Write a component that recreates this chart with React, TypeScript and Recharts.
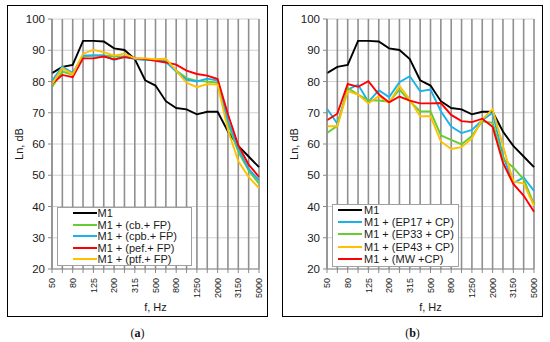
import React from 'react';
import { LineChart, Line, XAxis, YAxis, CartesianGrid, Label } from 'recharts';

const freqs = ['50', '63', '80', '100', '125', '160', '200', '250', '315', '400', '500', '630', '800', '1000', '1250', '1600', '2000', '2500', '3150', '4000', '5000'];
const xTickLabels = ['50', '80', '125', '200', '315', '500', '800', '1250', '2000', '3150', '5000'];
const yTicks = [20, 30, 40, 50, 60, 70, 80, 90, 100];

const m1 = [82.7, 84.7, 85.3, 93.0, 93.0, 92.8, 90.6, 90.1, 87.2, 80.4, 78.7, 73.7, 71.5, 71.1, 69.5, 70.3, 70.3, 64.0, 59.4, 56.0, 52.6];

// panel (a)
const cbFP = [78.2, 83.2, 82.1, 88.0, 88.3, 88.3, 88.0, 88.0, 87.4, 87.1, 86.9, 86.5, 83.5, 81.1, 80.2, 80.0, 79.6, 66.5, 57.5, 51.5, 47.3];
const cpbFP = [80.2, 84.8, 82.7, 88.3, 88.3, 88.3, 86.9, 87.9, 87.2, 86.9, 86.9, 86.3, 83.2, 80.6, 80.0, 80.9, 80.3, 67.5, 58.5, 52.0, 48.4];
const pefFP = [79.3, 82.1, 81.4, 87.4, 87.4, 88.0, 87.1, 87.8, 87.4, 87.2, 86.6, 86.1, 85.4, 83.5, 82.4, 81.9, 80.8, 69.5, 59.6, 53.4, 49.5];
const ptfFP = [79.1, 84.3, 82.3, 88.9, 90.1, 89.4, 88.3, 88.9, 87.4, 87.4, 87.1, 87.3, 83.5, 79.6, 78.2, 79.2, 79.0, 64.5, 54.5, 49.5, 45.9];

// panel (b)
const ep17CP = [71.3, 66.5, 77.4, 79.0, 73.5, 77.2, 75.0, 79.8, 81.7, 76.9, 77.4, 70.5, 65.6, 63.5, 64.5, 67.6, 70.0, 56.2, 47.5, 49.3, 45.0];
const ep33CP = [63.5, 65.8, 77.9, 75.8, 74.0, 73.9, 73.5, 77.4, 73.7, 70.4, 70.4, 62.8, 61.3, 59.9, 62.6, 67.3, 66.8, 55.3, 52.5, 48.7, 40.8];
const ep43CP = [65.7, 65.7, 76.9, 75.8, 73.0, 75.3, 73.2, 78.6, 74.2, 68.9, 68.9, 60.8, 58.4, 59.0, 61.8, 67.9, 71.1, 59.4, 48.0, 47.3, 40.2];
const mwCP = [67.6, 69.7, 79.2, 78.3, 80.1, 75.9, 73.3, 75.2, 73.9, 73.0, 73.0, 73.1, 69.3, 67.3, 67.0, 68.1, 65.5, 54.0, 47.2, 43.5, 38.3];

const FONT = '"Liberation Sans", Arial, sans-serif';
const BLACK = '#000000';
const GREEN = '#66cc33';
const CYAN = '#1ab2ee';
const RED = '#ff0000';
const GOLD = '#ffc000';

type Series = { key: string; name: string; color: string; values: number[] };

const seriesA: Series[] = [
  { key: 'm1', name: 'M1', color: BLACK, values: m1 },
  { key: 'cb', name: 'M1 + (cb.+ FP)', color: GREEN, values: cbFP },
  { key: 'cpb', name: 'M1 + (cpb.+ FP)', color: CYAN, values: cpbFP },
  { key: 'pef', name: 'M1 + (pef.+ FP)', color: RED, values: pefFP },
  { key: 'ptf', name: 'M1 + (ptf.+ FP)', color: GOLD, values: ptfFP },
];

const seriesB: Series[] = [
  { key: 'm1', name: 'M1', color: BLACK, values: m1 },
  { key: 'ep17', name: 'M1 + (EP17 + CP)', color: CYAN, values: ep17CP },
  { key: 'ep33', name: 'M1 + (EP33 + CP)', color: GREEN, values: ep33CP },
  { key: 'ep43', name: 'M1 + (EP43 + CP)', color: GOLD, values: ep43CP },
  { key: 'mw', name: 'M1 + (MW +CP)', color: RED, values: mwCP },
];

const XTick = (props: any) => {
  const { x, y, payload } = props;
  if (!xTickLabels.includes(String(payload.value))) return <g />;
  return (
    <text
      x={x}
      y={y}
      transform={`rotate(-90 ${x} ${y})`}
      textAnchor="end"
      dy="0.35em"
      fontSize={9}
      fill="#1a1a1a"
      fontFamily={FONT}
    >
      {payload.value}
    </text>
  );
};

type LegendCfg = { left: number; top: number; width: number; height: number; rowH: number; lineLeft: number; textLeft: number };

function Panel({ left, series, legend, caption }: { left: number; series: Series[]; legend: LegendCfg; caption: string }) {
  const data = freqs.map((f, i) => {
    const row: any = { f };
    series.forEach((s) => {
      row[s.key] = s.values[i];
    });
    return row;
  });
  return (
    <>
      <div
        style={{
          position: 'absolute',
          left,
          top: 5,
          width: 261,
          height: 312,
          border: '1px solid #000',
          boxSizing: 'border-box',
          background: '#fff',
        }}
      >
        <LineChart width={259} height={310} data={data} margin={{ top: 13, right: 8, bottom: 4, left: 6 }}>
          <CartesianGrid horizontal={true} vertical={false} stroke="#d0d0d0" strokeWidth={1} />
          <CartesianGrid horizontal={false} vertical={true} stroke="#8f8f8f" strokeWidth={1.6} />
          <XAxis
            dataKey="f"
            interval={0}
            height={43}
            tick={<XTick />}
            tickSize={4}
            tickMargin={5}
            stroke="#8a8a8a"
            tickLine={{ stroke: '#8a8a8a' }}
          >
            <Label value="f, Hz" position="insideBottom" offset={1} fontSize={11} fill="#1a1a1a" fontFamily={FONT} />
          </XAxis>
          <YAxis
            domain={[20, 100]}
            ticks={yTicks}
            width={38}
            tickSize={4}
            tickMargin={3}
            stroke="#8a8a8a"
            tick={{ fontSize: 11.5, fill: '#1a1a1a', fontFamily: FONT }}
            allowDataOverflow
          >
            <Label
              value="Ln, dB"
              angle={-90}
              position="insideLeft"
              offset={5}
              fontSize={11}
              fill="#1a1a1a"
              fontFamily={FONT}
              style={{ textAnchor: 'middle' }}
            />
          </YAxis>
          {series.map((s) => (
            <Line
              key={s.key}
              type="linear"
              dataKey={s.key}
              name={s.name}
              stroke={s.color}
              strokeWidth={1.9}
              dot={false}
              activeDot={false}
              isAnimationActive={false}
            />
          ))}
        </LineChart>
        <div
          style={{
            position: 'absolute',
            left: legend.left,
            top: legend.top,
            width: legend.width,
            height: legend.height,
            border: '1px solid #a0a0a0',
            boxSizing: 'border-box',
            background: '#fff',
            fontFamily: FONT,
            fontSize: 11,
            color: '#1a1a1a',
          }}
        >
          {series.map((s, i) => (
            <div
              key={s.key}
              style={{
                position: 'absolute',
                left: 0,
                top: 6 + i * legend.rowH - legend.rowH / 2 - 1,
                height: legend.rowH,
                width: '100%',
                display: 'flex',
                alignItems: 'center',
              }}
            >
              <span
                style={{
                  position: 'absolute',
                  left: legend.lineLeft,
                  width: 24,
                  height: 2,
                  background: s.color,
                }}
              />
              <span style={{ position: 'absolute', left: legend.textLeft, whiteSpace: 'nowrap', lineHeight: '12px' }}>{s.name}</span>
            </div>
          ))}
        </div>
      </div>
      <div
        style={{
          position: 'absolute',
          left,
          top: 326,
          width: 261,
          textAlign: 'center',
          fontFamily: '"Liberation Serif", "Times New Roman", serif',
          fontSize: 12,
          color: '#111',
          lineHeight: '15px',
        }}
      >
        (<b>{caption}</b>)
      </div>
    </>
  );
}

export default function App() {
  return (
    <div style={{ position: 'absolute', left: 0, top: 0, width: 550, height: 342, background: '#fff', overflow: 'hidden' }}>
      <Panel
        left={7}
        series={seriesA}
        caption="a"
        legend={{ left: 49, top: 201, width: 135, height: 59, rowH: 11.6, lineLeft: 14.5, textLeft: 39.5 }}
      />
      <Panel
        left={282}
        series={seriesB}
        caption="b"
        legend={{ left: 49, top: 197.5, width: 127, height: 63, rowH: 12.4, lineLeft: 4.5, textLeft: 31 }}
      />
    </div>
  );
}
